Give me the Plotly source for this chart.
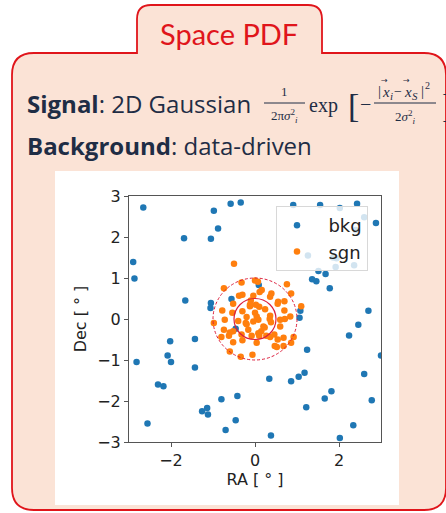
import plotly.graph_objects as go

# ---------------- data ----------------
bkg_ra = [-2.66, -0.58, -0.34, -0.98, -0.88, -1.69, -1.05, -2.90, -2.87, -1.66, -1.05, -1.06,
          0.91, 1.55, 2.43, 2.88, 2.02, 2.60, 2.40, 1.26, 1.86, 1.94, 1.92, 2.36, 1.51, 1.68,
          1.36, 1.46, 1.78, 0.09, 2.70, 2.46, 3.00, 2.24, 1.08, 1.06, 1.24, -0.46, -0.56,
          -2.02, -1.43, -2.08, -2.00, -2.82, -1.43, -2.31, -2.18, -2.56, -1.26, -1.14, -1.12,
          -0.80, -0.42, -0.46, -0.70, 0.38, 0.34, 0.86, 1.04, 1.18, 1.22, 1.66, 1.82, 2.60,
          2.78, 2.34, 2.02]
bkg_dec = [2.72, 2.81, 2.84, 2.64, 2.21, 1.97, 1.96, 1.39, 0.99, 0.45, 0.39, 0.27,
           2.78, 2.78, 2.81, 2.34, 2.71, 2.48, 2.17, 1.55, 1.50, 1.48, 1.27, 1.31, 1.17, 1.10,
           0.97, 0.92, 0.75, 0.83, 0.20, -0.14, -0.89, -0.40, 0.20, 0.03, -0.75, -0.24, 0.49,
           -0.54, -0.49, -0.89, -1.05, -1.05, -1.18, -1.60, -1.64, -2.55, -2.25, -2.17, -2.33,
           -1.96, -1.88, -2.47, -2.71, -2.84, -1.46, -1.52, -1.41, -1.31, -2.15, -1.94, -1.76, -1.34,
           -1.98, -2.59, -2.90]

sgn_ra = [-0.50, -0.32, 0.00, 0.16, -0.74, 0.76, 0.86, -0.38, -0.30, -0.52, -0.04, 0.36,
          0.54, 0.70, 1.10, -0.78, -0.98, -0.72, -0.54, -0.30, -0.12, 0.00, 0.04, 0.08,
          -0.04, 0.24, 0.36, 0.38, -0.22, -0.16, 0.20, 0.60, 0.70, 0.84, -0.74, -0.62,
          -0.80, -0.52, -0.32, -0.08, 0.10, 0.36, 0.46, 0.60, 0.54, 0.68, -0.52, -0.30,
          -0.60, -0.34, -0.06, 0.52, 0.68, 0.86, 0.92, 0.04, -0.10, 0.10, -0.20, 0.15,
          0.02, 0.07, 0.39, 0.11, 0.55, 0.35, 0.71, 0.23, 0.08, 0.27, 0.47, -0.60, -0.40,
          -0.20, -0.12]
sgn_dec = [1.35, 0.89, 0.94, 0.71, 0.75, 0.85, 0.62, 0.57, 0.59, 0.37, 0.57, 0.54,
           0.37, 0.43, 0.31, 0.21, -0.10, -0.02, 0.15, 0.19, 0.31, 0.15, 0.06, -0.02,
           -0.06, 0.24, 0.08, -0.08, -0.10, -0.26, -0.18, -0.02, 0.21, 0.06, -0.26, -0.41,
           -0.44, -0.30, -0.38, -0.41, -0.41, -0.44, -0.38, -0.18, -0.50, -0.46, -0.57, -0.52,
           -0.79, -0.92, -0.87, -0.68, -0.66, -0.58, -0.44, -0.58, 0.45, 0.30, 0.05, -0.30,
           0.35, 0.91, 0.62, 0.66, 0.42, 0.00, 0.00, -0.21, -0.35, -0.41, -0.66, -0.33, -0.05,
           -0.13, 0.35]

r_inner = 0.5
r_outer = 1.0

x_tickvals = [-2, 0, 2]
x_ticktext = ["\u22122", "0", "2"]
y_tickvals = [-3, -2, -1, 0, 1, 2, 3]
y_ticktext = ["\u22123", "\u22122", "\u22121", "0", "1", "2", "3"]

# ---------------- layout geometry (pixels) ----------------
FW, FH = 446, 513
L, R, T, B = 129, 65, 196, 71
PW, PH = FW - L - R, FH - T - B


def px(x):
    return (x - L) / PW


def py(y):
    return (FH - B - y) / PH


def path(cmds):
    out = []
    for c in cmds:
        s = c[0]
        for (a, b) in c[1:]:
            s += " %.5f,%.5f" % (px(a), py(b))
        out.append(s)
    return " ".join(out) + " Z"


PINK = "#FBE3D6"
RED = "#E0151B"
NAVY = "#1F2D45"

box = path([
    ("M", (12, 75)), ("Q", (12, 53), (34, 53)), ("L", (137, 53)), ("L", (137, 19)),
    ("Q", (137, 5), (151, 5)), ("L", (308, 5)), ("Q", (322, 5), (322, 19)),
    ("L", (322, 53)), ("L", (424, 53)), ("Q", (446, 53), (446, 75)), ("L", (446, 488)),
    ("Q", (446, 510), (424, 510)), ("L", (34, 510)), ("Q", (12, 510), (12, 488)),
])

shapes = [
    dict(type="path", xref="paper", yref="paper", path=box, fillcolor=PINK,
         line=dict(color=RED, width=1.8), layer="below"),
    dict(type="rect", xref="paper", yref="paper", x0=px(55), x1=px(399), y0=py(505), y1=py(171),
         fillcolor="white", line=dict(width=0), layer="below"),
    # fraction bars
    dict(type="line", xref="paper", yref="paper", x0=px(264), x1=px(305), y0=py(103), y1=py(103),
         line=dict(color=NAVY, width=1), layer="above"),
    dict(type="line", xref="paper", yref="paper", x0=px(374), x1=px(436), y0=py(103), y1=py(103),
         line=dict(color=NAVY, width=1), layer="above"),
    # circles around source
    dict(type="circle", xref="x", yref="y", x0=-r_inner, x1=r_inner, y0=-r_inner, y1=r_inner,
         line=dict(color="#DC1E3C", width=1.2), layer="above"),
    dict(type="circle", xref="x", yref="y", x0=-r_outer, x1=r_outer, y0=-r_outer, y1=r_outer,
         line=dict(color="#DC1E3C", width=1.0, dash="3px,2px"), layer="above"),
]

SERIF = "Liberation Serif"
TXT = "Open Sans"


def ann(text, x, y, size, color=NAVY, family=TXT, xanchor="left", yanchor="middle"):
    return dict(text=text, x=px(x), y=py(y), xref="paper", yref="paper", showarrow=False,
                xanchor=xanchor, yanchor=yanchor, font=dict(size=size, color=color, family=family))


annotations = [
    ann("Space PDF", 229, 33, 29, color=RED, family="Lato", xanchor="center"),
    ann("<b>Signal</b>: 2D Gaussian", 25, 104, 24),
    ann("1", 284, 92, 13, family=SERIF, xanchor="center"),
    ann("2π<i>σ</i><sup>2</sup><sub><i>i</i></sub>", 284, 116, 13, family=SERIF, xanchor="center"),
    ann("exp", 307, 105, 20, family=SERIF),
    ann("[", 346, 106, 34, family=SERIF),
    ann("−", 358, 104, 20, family=SERIF),
    # numerator |x_i - x_S|^2 built piece by piece
    ann("|", 376, 91, 15, family=SERIF),
    ann("<i>x</i>", 380, 92, 15, family=SERIF),
    ann("→", 384, 81, 8, family="DejaVu Sans", xanchor="center"),
    ann("<i>i</i>", 388, 96, 11, family=SERIF),
    ann("−", 392, 92, 14, family=SERIF),
    ann("<i>x</i>", 402, 92, 15, family=SERIF),
    ann("→", 406, 81, 8, family="DejaVu Sans", xanchor="center"),
    ann("<i>S</i>", 410, 96, 11, family=SERIF),
    ann("|", 419, 91, 15, family=SERIF),
    ann("2", 423, 85, 10, family=SERIF),
    ann("2<i>σ</i><sup>2</sup><sub><i>i</i></sub>", 405, 117, 13, family=SERIF, xanchor="center"),
    ann("]", 440, 106, 34, family=SERIF),
    ann("<b>Background</b>: data-driven", 25, 145, 24),
]

fig = go.Figure()
fig.add_trace(go.Scatter(x=bkg_ra, y=bkg_dec, mode="markers", name="\u00a0\u00a0bkg",
                         legendgroup="b",
                         marker=dict(color="#1f77b4", size=6.5, line=dict(width=0))))
fig.add_trace(go.Scatter(x=sgn_ra, y=sgn_dec, mode="markers", name="\u00a0\u00a0sgn",
                         legendgroup="s",
                         marker=dict(color="#ff7f0e", size=6.5, line=dict(width=0))))

axis_common = dict(showgrid=False, zeroline=False, showline=True, mirror=True,
                   linecolor="#555555", linewidth=1, ticks="outside", ticklen=4,
                   tickcolor="#555555", tickfont=dict(family="DejaVu Sans", size=16, color="#222222"))

fig.update_layout(
    width=FW, height=FH,
    margin=dict(l=L, r=R, t=T, b=B, pad=0),
    paper_bgcolor="white", plot_bgcolor="white",
    xaxis=dict(range=[-3, 3], tickvals=x_tickvals, ticktext=x_ticktext,
               title=dict(text="RA [ ° ]", font=dict(family="DejaVu Sans", size=16, color="#222222"),
                          standoff=4), **axis_common),
    yaxis=dict(range=[-3, 3], tickvals=y_tickvals, ticktext=y_ticktext,
               title=dict(text="Dec [ ° ]", font=dict(family="DejaVu Sans", size=16, color="#222222"),
                          standoff=6), **axis_common),
    legend=dict(x=px(276), y=py(206), xanchor="left", yanchor="top",
                bgcolor="rgba(255,255,255,0.8)", bordercolor="#d8d8d8", borderwidth=1,
                font=dict(family="DejaVu Sans", size=18, color="#222222"),
                itemwidth=30, tracegroupgap=0, traceorder="grouped",
                entrywidth=92, entrywidthmode="pixels"),
    shapes=shapes,
    annotations=annotations,
    showlegend=True,
)

fig.write_html("out.html")
